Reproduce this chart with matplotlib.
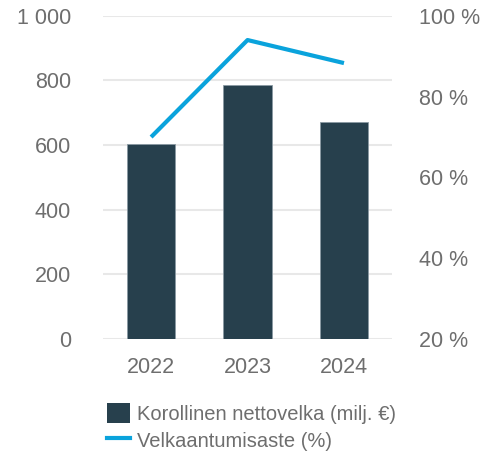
import matplotlib.pyplot as plt
from matplotlib.ticker import FuncFormatter
from matplotlib.patches import Patch
from matplotlib.lines import Line2D

years = ["2022", "2023", "2024"]
nettovelka = [605, 785, 673]
velkaantumisaste = [70.0, 94.0, 88.3]

bar_color = "#27404d"
line_color = "#0aa3dc"
text_color = "#6e6e6e"

plt.rcParams['font.family'] = ['Liberation Sans', 'DejaVu Sans']
plt.rcParams['font.size'] = 15.5

fig = plt.figure(figsize=(4.83, 4.51), dpi=100)
ax = fig.add_axes([0.213, 0.248, 0.599, 0.717])
x = list(range(len(years)))

ax.bar(x, nettovelka, width=0.5, color=bar_color, edgecolor="#8a9aa3", linewidth=0.6, zorder=3)
ax.set_xlim(-0.5, 2.5)
ax.set_ylim(0, 1000)
ax.set_yticks([0, 200, 400, 600, 800, 1000])
ax.yaxis.set_major_formatter(FuncFormatter(lambda v, p: f"{int(v):,}".replace(",", " ")))
ax.set_xticks(x)
ax.set_xticklabels(years)
ax.grid(axis="y", color="#e8e8e8", linewidth=1.5, zorder=0)
for s in ax.spines.values():
    s.set_visible(False)
ax.tick_params(axis="both", length=0, colors=text_color)
ax.tick_params(axis="y", pad=23)
ax.tick_params(axis="x", pad=13)

ax2 = ax.twinx()
ax2.plot(x, velkaantumisaste, color=line_color, linewidth=3, solid_capstyle="butt", zorder=4)
ax2.set_ylim(20, 100)
ax2.set_yticks([20, 40, 60, 80, 100])
ax2.yaxis.set_major_formatter(FuncFormatter(lambda v, p: f"{int(v)} %"))
for s in ax2.spines.values():
    s.set_visible(False)
ax2.tick_params(axis="y", length=0, colors=text_color, pad=19)

handles = [Patch(facecolor=bar_color, edgecolor="none"),
           Line2D([0], [0], color=line_color, linewidth=3)]
labels = ["Korollinen nettovelka (milj. €)", "Velkaantumisaste (%)"]
fig.legend(handles, labels, loc="upper left", bbox_to_anchor=(0.222, 0.106),
           frameon=False, handlelength=1.15, handleheight=1.15, handletextpad=0.35,
           labelspacing=0.3, borderaxespad=0, borderpad=0, labelcolor=text_color,
           fontsize=14.5)

fig.savefig("out.png", dpi=100)
